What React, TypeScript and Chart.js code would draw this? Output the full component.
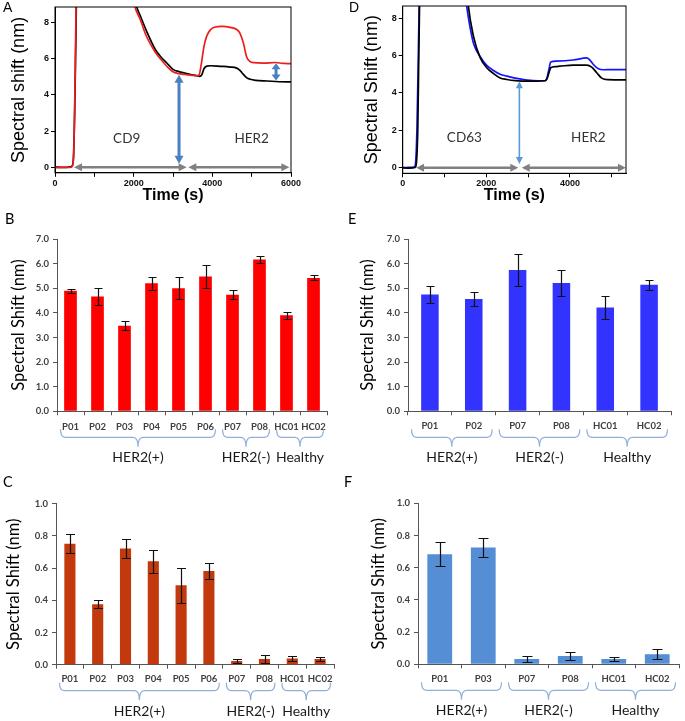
import React, { useEffect, useRef } from 'react';
import { Chart, registerables } from 'chart.js';

Chart.register(...registerables);

// ---------------- DATA ----------------
// Panel A (CD9 capture, then HER2)
const timeA_black = [0, 200, 400, 440, 470, 500, 530, 560, 1200, 1950, 2030, 2076, 2160, 2330, 2550, 2700, 2850, 3000, 3150, 3300, 3450, 3600, 3680, 3730, 3790, 3860, 3950, 4200, 4450, 4620, 4700, 4780, 4870, 4960, 5100, 5400, 5700, 6000];
const shiftA_black = [0.02, 0.0, 0.03, 0.1, 0.6, 3.0, 7.0, 11, 15, 10.2, 9.3, 8.85, 8.4, 7.5, 6.5, 6.07, 5.74, 5.4, 5.28, 5.2, 5.12, 5.06, 5.02, 5.1, 5.45, 5.58, 5.6, 5.57, 5.53, 5.47, 5.35, 5.15, 4.95, 4.86, 4.8, 4.76, 4.72, 4.71];
const timeA_red = [0, 200, 400, 450, 480, 505, 530, 550, 1200, 1950, 2000, 2034, 2160, 2330, 2550, 2700, 2850, 3000, 3150, 3300, 3450, 3600, 3660, 3720, 3790, 3860, 3940, 4050, 4250, 4450, 4620, 4700, 4790, 4870, 4960, 5050, 5300, 5600, 5800, 6000];
const shiftA_red = [-0.02, 0.0, 0.0, 0.1, 1.0, 4.0, 8.0, 11, 15, 10, 9.3, 8.85, 8.2, 7.2, 6.35, 5.93, 5.56, 5.27, 5.17, 5.12, 5.08, 5.05, 5.08, 5.7, 6.7, 7.25, 7.55, 7.72, 7.77, 7.72, 7.6, 7.4, 6.85, 6.1, 5.83, 5.77, 5.75, 5.78, 5.73, 5.72];

// Panel D (CD63 capture, then HER2)
const timeD_black = [0, 150, 300, 330, 360, 385, 405, 430, 1000, 1500, 1570, 1690, 1850, 2010, 2170, 2330, 2490, 2700, 3000, 3200, 3400, 3450, 3500, 3540, 3660, 3760, 4080, 4400, 4520, 4640, 4760, 4900, 5340];
const shiftD_black = [0.0, -0.02, 0.02, 0.3, 2.0, 6.0, 9.0, 12, 15, 10.5, 8.65, 7.05, 5.9, 5.35, 5.04, 4.8, 4.72, 4.66, 4.63, 4.63, 4.65, 4.75, 5.1, 5.35, 5.41, 5.43, 5.49, 5.49, 5.38, 5.08, 4.79, 4.71, 4.7];
const timeD_blue = [0, 150, 280, 310, 340, 370, 395, 420, 1000, 1450, 1530, 1620, 1700, 1850, 2010, 2170, 2330, 2490, 2800, 3120, 3400, 3450, 3500, 3540, 3680, 4080, 4400, 4460, 4560, 4680, 4800, 5000, 5340];
const shiftD_blue = [0.0, 0.02, 0.03, 0.3, 2.0, 5.5, 9.0, 12, 15, 10.5, 8.65, 7.4, 6.6, 5.95, 5.47, 5.2, 5.0, 4.9, 4.75, 4.66, 4.65, 4.8, 5.3, 5.65, 5.7, 5.76, 5.87, 5.8, 5.52, 5.29, 5.24, 5.25, 5.25];

const timeTicksA = [0, 1000, 2000, 3000, 4000, 5000, 6000];
const timeTicksD = [0, 1000, 2000, 3000, 4000, 5000];
const shiftTicksAD = [0, 2, 4, 6, 8];

// Panel B (CD9 capture, per sample)
const samplesB = ['P01', 'P02', 'P03', 'P04', 'P05', 'P06', 'P07', 'P08', 'HC01', 'HC02'];
const shiftB = [4.9, 4.66, 3.48, 5.2, 5.0, 5.48, 4.74, 6.17, 3.9, 5.42];
const errB = [0.08, 0.35, 0.19, 0.27, 0.44, 0.48, 0.18, 0.15, 0.15, 0.1];

// Panel C (HER2 on CD9-captured vesicles)
const samplesC = ['P01', 'P02', 'P03', 'P04', 'P05', 'P06', 'P07', 'P08', 'HC01', 'HC02'];
const shiftC = [0.752, 0.375, 0.722, 0.642, 0.493, 0.582, 0.023, 0.035, 0.039, 0.035];
const errC = [0.057, 0.025, 0.057, 0.071, 0.11, 0.05, 0.012, 0.023, 0.015, 0.01];

// Panel E (CD63 capture, per sample)
const samplesE = ['P01', 'P02', 'P07', 'P08', 'HC01', 'HC02'];
const shiftE = [4.75, 4.56, 5.74, 5.21, 4.22, 5.14];
const errE = [0.35, 0.28, 0.66, 0.53, 0.45, 0.2];

// Panel F (HER2 on CD63-captured vesicles)
const samplesF = ['P01', 'P03', 'P07', 'P08', 'HC01', 'HC02'];
const shiftF = [0.683, 0.725, 0.033, 0.052, 0.033, 0.062];
const errF = [0.075, 0.06, 0.02, 0.025, 0.01, 0.03];

const shiftTicksLarge = [0, 1, 2, 3, 4, 5, 6, 7];
const shiftTicksSmall = [0, 0.2, 0.4, 0.6, 0.8, 1.0];

const groupsBC = [
  { label: 'HER2(+)', from: 0, to: 5 },
  { label: 'HER2(-)', from: 6, to: 7 },
  { label: 'Healthy', from: 8, to: 9 },
];
const groupsEF = [
  { label: 'HER2(+)', from: 0, to: 1 },
  { label: 'HER2(-)', from: 2, to: 3 },
  { label: 'Healthy', from: 4, to: 5 },
];

// ---------------- HELPERS ----------------
const SANS = "'Liberation Sans', Arial, sans-serif";
const HUM = "Lato, 'Liberation Sans', sans-serif";

type Box = { l: number; t: number; w: number; h: number };
type Area = { L: number; T: number; R: number; B: number };

function layoutFor(box: Box, area: Area) {
  return {
    padding: { left: 0, bottom: 0, top: area.T - box.t, right: box.l + box.w - area.R },
    yWidth: area.L - box.l,
    xHeight: box.t + box.h - area.B,
  };
}

function letterPlugin(letter: string, x: number, y: number, font: string) {
  return {
    id: 'panelLetter',
    afterDraw(chart: any) {
      const ctx = chart.ctx;
      ctx.save();
      ctx.font = font;
      ctx.fillStyle = '#000';
      ctx.textAlign = 'left';
      ctx.textBaseline = 'alphabetic';
      ctx.fillText(letter, x, y);
      ctx.restore();
    },
  };
}

function drawDoubleArrow(ctx: CanvasRenderingContext2D, x1: number, y1: number, x2: number, y2: number, color: string, width: number, hl: number, hw: number) {
  const a = Math.atan2(y2 - y1, x2 - x1);
  const c = Math.cos(a), s = Math.sin(a);
  ctx.strokeStyle = color;
  ctx.fillStyle = color;
  ctx.lineWidth = width;
  ctx.beginPath();
  ctx.moveTo(x1 + c * hl * 0.7, y1 + s * hl * 0.7);
  ctx.lineTo(x2 - c * hl * 0.7, y2 - s * hl * 0.7);
  ctx.stroke();
  const head = (x: number, y: number, cc: number, ss: number) => {
    ctx.beginPath();
    ctx.moveTo(x, y);
    ctx.lineTo(x - hl * cc + hw * ss, y - hl * ss - hw * cc);
    ctx.lineTo(x - hl * cc - hw * ss, y - hl * ss + hw * cc);
    ctx.closePath();
    ctx.fill();
  };
  head(x2, y2, c, s);
  head(x1, y1, -c, -s);
}

type ArrowSpec = { x1: number; y1: number; x2: number; y2: number; color: string; width: number; hl: number; hw: number };
type LabelSpec = { text: string; x: number; y: number };

function timeAnnotPlugin(arrows: ArrowSpec[], labels: LabelSpec[]) {
  return {
    id: 'timeAnnot',
    afterDatasetsDraw(chart: any) {
      const ctx = chart.ctx;
      const xs = chart.scales.x, ys = chart.scales.y;
      ctx.save();
      arrows.forEach((a) =>
        drawDoubleArrow(ctx, xs.getPixelForValue(a.x1), ys.getPixelForValue(a.y1), xs.getPixelForValue(a.x2), ys.getPixelForValue(a.y2), a.color, a.width, a.hl, a.hw)
      );
      ctx.font = `13.5px ${HUM}`;
      ctx.fillStyle = '#333';
      ctx.textAlign = 'center';
      ctx.textBaseline = 'middle';
      labels.forEach((l) => ctx.fillText(l.text, xs.getPixelForValue(l.x), ys.getPixelForValue(l.y)));
      ctx.restore();
    },
    afterDraw(chart: any) {
      const { left, top, right, bottom } = chart.chartArea;
      const ctx = chart.ctx;
      ctx.save();
      ctx.strokeStyle = '#000';
      ctx.lineWidth = 1;
      ctx.strokeRect(left, top, right - left, bottom - top);
      ctx.restore();
    },
  };
}

function errorBarPlugin(errors: number[], cap: number) {
  return {
    id: 'errorBars',
    afterDatasetsDraw(chart: any) {
      const ctx = chart.ctx;
      const ys = chart.scales.y;
      const meta = chart.getDatasetMeta(0);
      const vals = chart.data.datasets[0].data as number[];
      ctx.save();
      ctx.strokeStyle = '#111';
      ctx.lineWidth = 1.2;
      meta.data.forEach((bar: any, i: number) => {
        const yHi = Math.round(ys.getPixelForValue(vals[i] + errors[i])) + 0.5;
        const yLo = Math.round(ys.getPixelForValue(Math.max(0, vals[i] - errors[i]))) + 0.5;
        const x = Math.round(bar.x) + 0.5;
        ctx.beginPath();
        ctx.moveTo(x, yHi);
        ctx.lineTo(x, yLo);
        ctx.moveTo(x - cap / 2, yHi);
        ctx.lineTo(x + cap / 2, yHi);
        ctx.moveTo(x - cap / 2, yLo);
        ctx.lineTo(x + cap / 2, yLo);
        ctx.stroke();
      });
      ctx.restore();
    },
  };
}

type Group = { label: string; from: number; to: number };

function bracketPlugin(groups: Group[], g: { top: number; mid: number; tip: number; label: number; inset: number; r: number }) {
  return {
    id: 'brackets',
    afterDraw(chart: any) {
      const ctx = chart.ctx;
      const xs = chart.scales.x;
      const base = chart.chartArea.bottom;
      const cw = (xs.right - xs.left) / chart.data.labels.length;
      ctx.save();
      groups.forEach((gr) => {
        const x0 = xs.getPixelForValue(gr.from) - cw / 2 + g.inset;
        const x1 = xs.getPixelForValue(gr.to) + cw / 2 - g.inset;
        const cx = (x0 + x1) / 2;
        const yT = base + g.top, yM = base + g.mid, yP = base + g.tip, r = g.r;
        ctx.strokeStyle = '#8fb0db';
        ctx.lineWidth = 1.2;
        ctx.beginPath();
        ctx.moveTo(x0, yT);
        ctx.quadraticCurveTo(x0, yM, x0 + r, yM);
        ctx.lineTo(cx - r, yM);
        ctx.quadraticCurveTo(cx, yM, cx, yP);
        ctx.quadraticCurveTo(cx, yM, cx + r, yM);
        ctx.lineTo(x1 - r, yM);
        ctx.quadraticCurveTo(x1, yM, x1, yT);
        ctx.stroke();
        ctx.fillStyle = '#1a1a1a';
        ctx.font = `14px ${HUM}`;
        ctx.textAlign = 'center';
        ctx.textBaseline = 'middle';
        ctx.fillText(gr.label, cx, base + g.label);
      });
      ctx.restore();
    },
  };
}

// ---------------- CHART BUILDERS ----------------
type Series = { t: number[]; v: number[]; color: string };

function makeTimeChart(o: {
  box: Box; area: Area; xMax: number; yMin: number; yMax: number; xTicks: number[]; series: Series[];
  yTitle: string; yTitlePad: number; letter: string; letterPos: [number, number];
  arrows: ArrowSpec[]; labels: LabelSpec[];
}) {
  const L = layoutFor(o.box, o.area);
  return {
    type: 'line',
    data: {
      datasets: o.series.map((s) => ({
        data: s.t.map((t, i) => ({ x: t, y: s.v[i] })),
        borderColor: s.color,
        borderWidth: 1.7,
        pointRadius: 0,
        cubicInterpolationMode: 'monotone',
        fill: false,
        clip: 0,
      })),
    },
    options: {
      responsive: false,
      animation: false,
      devicePixelRatio: 1,
      layout: { padding: L.padding },
      plugins: { legend: { display: false }, tooltip: { enabled: false } },
      scales: {
        x: {
          type: 'linear',
          min: 0,
          max: o.xMax,
          afterBuildTicks: (s: any) => { s.ticks = o.xTicks.map((v) => ({ value: v })); },
          ticks: {
            callback: (v: any) => (Number(v) % 2000 === 0 ? String(v) : ''),
            font: { family: SANS, size: 9, weight: 'bold' },
            color: '#111',
            padding: 1,
            maxRotation: 0,
            autoSkip: false,
          },
          grid: { drawOnChartArea: false, tickLength: 4, color: '#000' },
          border: { color: '#000' },
          title: { display: true, text: 'Time (s)', font: { family: SANS, size: 16, weight: 'bold' }, color: '#000', padding: { top: 0, bottom: 6.5 } },
          afterFit: (s: any) => { s.height = L.xHeight; s.paddingLeft = 0; s.paddingRight = 0; },
        },
        y: {
          type: 'linear',
          min: o.yMin,
          max: o.yMax,
          afterBuildTicks: (s: any) => { s.ticks = shiftTicksAD.map((v) => ({ value: v })); },
          ticks: { font: { family: SANS, size: 9, weight: 'bold' }, color: '#111', padding: 2 },
          grid: { drawOnChartArea: false, tickLength: 4, color: '#000' },
          border: { color: '#000' },
          title: { display: true, text: o.yTitle, font: { family: SANS, size: 18 }, color: '#000', padding: { top: o.yTitlePad, bottom: 0 } },
          afterFit: (s: any) => { s.width = L.yWidth; s.paddingTop = 0; s.paddingBottom = 0; },
        },
      },
    },
    plugins: [
      timeAnnotPlugin(o.arrows, o.labels),
      letterPlugin(o.letter, o.letterPos[0] - o.box.l, o.letterPos[1] - o.box.t, `14px ${SANS}`),
    ],
  };
}

function makeBarChart(o: {
  box: Box; area: Area; labels: string[]; values: number[]; errors: number[]; color: string; barPct: number;
  yMax: number; yTicks: number[]; yTitlePad: number; xPad: number; cap: number; groups: Group[];
  letter: string; letterPos: [number, number];
}) {
  const L = layoutFor(o.box, o.area);
  const axisColor = '#555';
  return {
    type: 'bar',
    data: {
      labels: o.labels,
      datasets: [{ data: o.values, backgroundColor: o.color, borderWidth: 0, barPercentage: o.barPct, categoryPercentage: 1 }],
    },
    options: {
      responsive: false,
      animation: false,
      devicePixelRatio: 1,
      layout: { padding: L.padding },
      plugins: { legend: { display: false }, tooltip: { enabled: false } },
      scales: {
        x: {
          type: 'category',
          offset: true,
          grid: { drawOnChartArea: false, tickLength: 4, offset: true, color: axisColor },
          border: { color: axisColor },
          ticks: { font: { family: HUM, size: 9.5, weight: 'bold' }, color: '#404040', padding: o.xPad, autoSkip: false, maxRotation: 0 },
          afterFit: (s: any) => { s.height = L.xHeight; s.paddingLeft = 0; s.paddingRight = 0; },
        },
        y: {
          type: 'linear',
          min: 0,
          max: o.yMax,
          afterBuildTicks: (s: any) => { s.ticks = o.yTicks.map((v) => ({ value: v })); },
          ticks: { callback: (v: any) => Number(v).toFixed(1), font: { family: HUM, size: 9.5, weight: 'bold' }, color: '#404040', padding: 4 },
          grid: { drawOnChartArea: false, tickLength: 4, color: axisColor },
          border: { color: axisColor },
          title: { display: true, text: 'Spectral Shift (nm)', font: { family: HUM, size: 16.5 }, color: '#000', padding: { top: o.yTitlePad, bottom: 0 } },
          afterFit: (s: any) => { s.width = L.yWidth; s.paddingTop = 0; s.paddingBottom = 0; },
        },
      },
    },
    plugins: [
      errorBarPlugin(o.errors, o.cap),
      bracketPlugin(o.groups, { top: 18, mid: 26, tip: 35.5, label: 46.5, inset: 3.5, r: 5 }),
      letterPlugin(o.letter, o.letterPos[0] - o.box.l, o.letterPos[1] - o.box.t, `14.5px ${HUM}`),
    ],
  };
}

// ---------------- PANELS ----------------
const boxA: Box = { l: 0, t: 0, w: 340, h: 212 };
const boxD: Box = { l: 340, t: 0, w: 345, h: 212 };
const boxB: Box = { l: 0, t: 205, w: 340, h: 263 };
const boxE: Box = { l: 340, t: 205, w: 345, h: 263 };
const boxC: Box = { l: 0, t: 468, w: 340, h: 253 };
const boxF: Box = { l: 340, t: 468, w: 345, h: 253 };

const GRAY = '#808080';

const configs: { box: Box; make: () => any }[] = [
  {
    box: boxA,
    make: () =>
      makeTimeChart({
        box: boxA, area: { L: 55, T: 7, R: 291, B: 172.8 }, xMax: 6000, yMin: -0.3, yMax: 8.84, xTicks: timeTicksA,
        series: [
          { t: timeA_red, v: shiftA_red, color: '#ee1c1c' },
          { t: timeA_black, v: shiftA_black, color: '#000000' },
        ],
        yTitle: 'Spectral shift (nm)', yTitlePad: 8.5, letter: 'A', letterPos: [3, 12],
        arrows: [
          { x1: 483, y1: 0, x2: 3347, y2: 0, color: GRAY, width: 2.5, hl: 8, hw: 4 },
          { x1: 3390, y1: 0, x2: 5958, y2: 0, color: GRAY, width: 2.5, hl: 8, hw: 4 },
          { x1: 3153, y1: 0.2, x2: 3153, y2: 5.1, color: '#4a7fc0', width: 3, hl: 8, hw: 4.5 },
          { x1: 5620, y1: 4.79, x2: 5620, y2: 5.74, color: '#4a7fc0', width: 3, hl: 6, hw: 4.5 },
        ],
        labels: [
          { text: 'CD9', x: 1822, y: 1.61 },
          { text: 'HER2', x: 5000, y: 1.61 },
        ],
      }),
  },
  {
    box: boxD,
    make: () =>
      makeTimeChart({
        box: boxD, area: { L: 402.7, T: 6, R: 626, B: 173.3 }, xMax: 5340, yMin: -0.3, yMax: 8.65, xTicks: timeTicksD,
        series: [
          { t: timeD_black, v: shiftD_black, color: '#000000' },
          { t: timeD_blue, v: shiftD_blue, color: '#1414ff' },
        ],
        yTitle: 'Spectral Shift (nm)', yTitlePad: 21, letter: 'D', letterPos: [349, 12],
        arrows: [
          { x1: 319, y1: 0, x2: 2765, y2: 0, color: GRAY, width: 2.5, hl: 8, hw: 4 },
          { x1: 2845, y1: 0, x2: 5339, y2: 0, color: GRAY, width: 2.5, hl: 8, hw: 4 },
          { x1: 2790, y1: 0.2, x2: 2790, y2: 4.63, color: '#5b9bd5', width: 1.6, hl: 7, hw: 3.5 },
        ],
        labels: [
          { text: 'CD63', x: 1474, y: 1.61 },
          { text: 'HER2', x: 4438, y: 1.61 },
        ],
      }),
  },
  {
    box: boxB,
    make: () =>
      makeBarChart({
        box: boxB, area: { L: 57, T: 239, R: 327, B: 411.3 }, labels: samplesB, values: shiftB, errors: errB,
        color: '#ff0000', barPct: 0.47, yMax: 7, yTicks: shiftTicksLarge, yTitlePad: 8.6, xPad: 6, cap: 8,
        groups: groupsBC, letter: 'B', letterPos: [5, 223.5],
      }),
  },
  {
    box: boxE,
    make: () =>
      makeBarChart({
        box: boxE, area: { L: 408, T: 239, R: 671, B: 411.3 }, labels: samplesE, values: shiftE, errors: errE,
        color: '#3333ff', barPct: 0.4, yMax: 7, yTicks: shiftTicksLarge, yTitlePad: 18, xPad: 5, cap: 8,
        groups: groupsEF, letter: 'E', letterPos: [348, 223.5],
      }),
  },
  {
    box: boxC,
    make: () =>
      makeBarChart({
        box: boxC, area: { L: 56, T: 503.7, R: 334, B: 664.7 }, labels: samplesC, values: shiftC, errors: errC,
        color: '#c2390d', barPct: 0.4, yMax: 1, yTicks: shiftTicksSmall, yTitlePad: 4.2, xPad: 5, cap: 9,
        groups: groupsBC, letter: 'C', letterPos: [3, 487],
      }),
  },
  {
    box: boxF,
    make: () =>
      makeBarChart({
        box: boxF, area: { L: 418, T: 503.3, R: 679, B: 664.3 }, labels: samplesF, values: shiftF, errors: errF,
        color: '#558ed5', barPct: 0.57, yMax: 1, yTicks: shiftTicksSmall, yTitlePad: 29, xPad: 4.5, cap: 10,
        groups: groupsEF, letter: 'F', letterPos: [344, 486.5],
      }),
  },
];

function Panel({ box, make }: { box: Box; make: () => any }) {
  const ref = useRef<HTMLCanvasElement | null>(null);
  useEffect(() => {
    if (!ref.current) return;
    const chart = new Chart(ref.current, make());
    return () => chart.destroy();
  }, []);
  return (
    <div style={{ position: 'absolute', left: box.l, top: box.t, width: box.w, height: box.h }}>
      <canvas ref={ref} width={box.w} height={box.h} style={{ width: box.w, height: box.h, display: 'block' }} />
    </div>
  );
}

export default function App() {
  return (
    <div style={{ position: 'absolute', left: 0, top: 0, width: 685, height: 721, background: '#fff', overflow: 'hidden' }}>
      {configs.map((c, i) => (
        <Panel key={i} box={c.box} make={c.make} />
      ))}
    </div>
  );
}
